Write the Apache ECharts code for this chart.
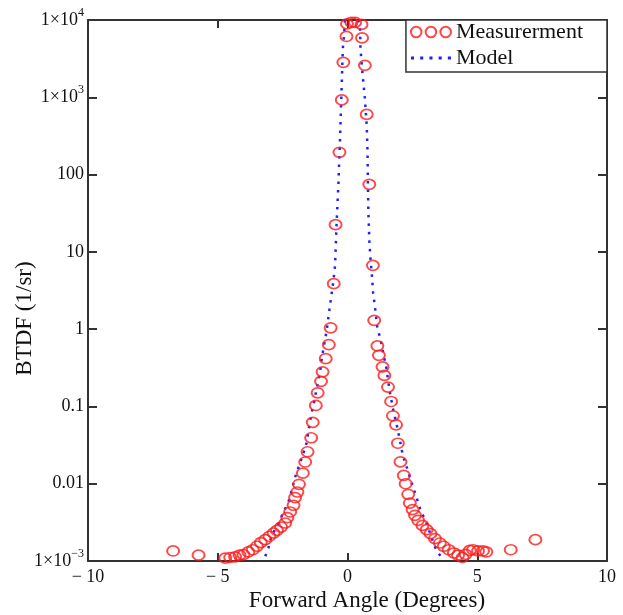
<!DOCTYPE html>
<html>
<head>
<meta charset="utf-8">
<script src="https://cdn.jsdelivr.net/npm/echarts@6/dist/echarts.min.js"></script>
<style>
  html, body { margin: 0; padding: 0; background: #ffffff; }
  #chart { width: 623px; height: 615px; }
</style>
</head>
<body>
<div id="chart"></div>
<script>
// Measured BTDF (1/sr) vs forward angle (degrees)
const measurementAngle = [
  -6.72, -5.74, -4.71, -4.52, -4.33, -4.16, -4.01, -3.82, -3.65, -3.49,
  -3.34, -3.17, -3.01, -2.85, -2.72, -2.56, -2.40, -2.32, -2.21, -2.08,
  -2.02, -1.93, -1.87, -1.72, -1.63, -1.54, -1.40, -1.34, -1.22, -1.15,
  -1.02, -0.96, -0.84, -0.72, -0.65, -0.53, -0.46, -0.31, -0.22, -0.16,
  -0.04, -0.02, 0.15, 0.29, 0.54, 0.56, 0.67, 0.74, 0.84, 0.98,
  1.03, 1.15, 1.21, 1.35, 1.42, 1.56, 1.68, 1.75, 1.87, 1.94,
  2.04, 2.17, 2.24, 2.34, 2.40, 2.51, 2.60, 2.72, 2.89, 3.05,
  3.20, 3.37, 3.56, 3.71, 3.90, 4.10, 4.26, 4.43, 4.55, 4.71,
  4.84, 5.03, 5.22, 5.35, 6.29, 7.24
];
const measurementBTDF = [
  1.35e-3, 1.19e-3, 1.09e-3, 1.11e-3, 1.13e-3, 1.19e-3, 1.21e-3, 1.31e-3, 1.40e-3, 1.55e-3,
  1.73e-3, 1.89e-3, 2.09e-3, 2.30e-3, 2.49e-3, 2.75e-3, 3.10e-3, 3.64e-3, 4.31e-3, 5.26e-3,
  6.61e-3, 7.81e-3, 9.82e-3, 0.0137, 0.0191, 0.0259, 0.0393, 0.0622, 0.103, 0.150,
  0.211, 0.280, 0.415, 0.630, 1.04, 3.88, 22.5, 194, 925, 2830,
  6130, 8910, 9310, 9310, 8770, 5870, 2590, 601, 74.7, 6.69,
  1.30, 0.608, 0.458, 0.325, 0.252, 0.178, 0.116, 0.0756, 0.0578, 0.0334,
  0.0192, 0.0128, 0.0100, 7.29e-3, 5.62e-3, 4.62e-3, 3.90e-3, 3.36e-3, 2.89e-3, 2.55e-3,
  2.26e-3, 1.95e-3, 1.71e-3, 1.55e-3, 1.40e-3, 1.27e-3, 1.19e-3, 1.11e-3, 1.22e-3, 1.37e-3,
  1.40e-3, 1.35e-3, 1.35e-3, 1.31e-3, 1.40e-3, 1.89e-3
];

// Model curve
const modelAngle = [
  -3.17, -3.05, -2.98, -2.85, -2.66, -2.47, -2.28, -2.15, -2.02, -1.89,
  -1.70, -1.57, -1.47, -1.38, -1.29, -1.18, -1.06, -0.99, -0.87, -0.80,
  -0.70, -0.61, -0.54, -0.48, -0.42, -0.35, -0.29, -0.26, -0.22, -0.18,
  -0.13, -0.10, 0.15, 0.40, 0.48, 0.50, 0.55, 0.61, 0.67, 0.74,
  0.77, 0.80, 0.84, 0.89, 0.94, 0.99, 1.06, 1.15, 1.28, 1.38,
  1.50, 1.62, 1.75, 1.90, 2.02, 2.13, 2.31, 2.52, 2.67, 2.83,
  3.02, 3.17, 3.30, 3.43, 3.66
];
const modelBTDF = [
  1.15e-3, 1.46e-3, 1.85e-3, 2.35e-3, 3.08e-3, 4.27e-3, 5.74e-3, 8.22e-3, 0.0121, 0.0163,
  0.0247, 0.0344, 0.0569, 0.0839, 0.113, 0.177, 0.276, 0.419, 0.716, 0.964,
  1.75, 2.90, 4.28, 6.68, 23.4, 76.9, 277, 583, 1560, 4290,
  6320, 10000, 20000, 10000, 8510, 4290, 2590, 1560, 968, 433,
  206, 37.6, 14.1, 7.76, 4.97, 2.90, 1.91, 1.05, 0.716, 0.486,
  0.311, 0.162, 0.0944, 0.0569, 0.0364, 0.0233, 0.0153, 9.25e-3, 6.47e-3, 4.40e-3,
  3.27e-3, 2.35e-3, 1.75e-3, 1.37e-3, 1.07e-3
];

const xTickLabels = ['\u2212 10', '\u2212 5', '0', '5', '10'];
const xTickValues = [-10, -5, 0, 5, 10];
const yTickLabels = ['{m|1\u00d710}{s|\u22123}', '0.01', '0.1', '1', '10', '100', '{m|1\u00d710}{s|3}', '{m|1\u00d710}{s|4}'];
const yTickExponents = [-3, -2, -1, 0, 1, 2, 3, 4];

const FONT = '"Liberation Serif", "DejaVu Serif", serif';
const AXIS_COLOR = '#333333';
const MODEL_COLOR = '#1f1fff';

const chart = echarts.init(document.getElementById('chart'), null, { renderer: 'canvas' });

const measurementData = measurementAngle.map((a, i) => [a, measurementBTDF[i]]);
const modelData = modelAngle.map((a, i) => [a, modelBTDF[i]]);

const commonX = {
  type: 'value', min: -10, max: 10, interval: 5,
  axisLine: { show: true, onZero: false, lineStyle: { color: AXIS_COLOR, width: 2 } },
  axisTick: { show: true, inside: true, length: 8, lineStyle: { color: AXIS_COLOR, width: 2 } },
  splitLine: { show: false }
};
const commonY = {
  type: 'log', logBase: 10, min: 1e-3, max: 1e4,
  axisLine: { show: true, onZero: false, lineStyle: { color: AXIS_COLOR, width: 2 } },
  axisTick: { show: true, inside: true, length: 9, lineStyle: { color: AXIS_COLOR, width: 2 } },
  minorTick: { show: false },
  splitLine: { show: false }
};

const option = {
  backgroundColor: '#ffffff',
  animation: false,
  grid: { left: 88, top: 20, width: 519, height: 541, containLabel: false, outerBoundsMode: 'none' },
  legend: {
    right: 16, top: 20,
    orient: 'vertical',
    backgroundColor: '#ffffff',
    borderColor: AXIS_COLOR, borderWidth: 1.5, borderRadius: 0,
    padding: [0, 24, 2, 4],
    itemGap: 2,
    itemWidth: 40, itemHeight: 11,
    textStyle: { fontFamily: FONT, fontSize: 22, color: '#111111', lineHeight: 24 },
    data: [
      { name: 'Measurerment', icon: 'path://M0,5a5,5 0 1,0 10,0a5,5 0 1,0 -10,0M14,5a5,5 0 1,0 10,0a5,5 0 1,0 -10,0M28,5a5,5 0 1,0 10,0a5,5 0 1,0 -10,0' },
      { name: 'Model', icon: 'path://M0,0h3v3h-3zM9,0h3v3h-3zM18,0h3v3h-3zM27,0h3v3h-3zM36,0h3v3h-3z',
        itemStyle: { color: MODEL_COLOR, borderWidth: 0 } }
    ]
  },
  xAxis: [
    Object.assign({}, commonX, {
      position: 'bottom',
      name: 'Forward Angle (Degrees)', nameLocation: 'middle', nameGap: 28,
      nameMoveOverlap: false,
      nameTextStyle: { fontFamily: FONT, fontSize: 23, color: '#111111', padding: [0, 0, 0, 39] },
      axisLabel: {
        show: true, margin: 7,
        fontFamily: FONT, fontSize: 18, color: '#111111',
        formatter: function (v) {
          const i = xTickValues.indexOf(Math.round(v));
          return i >= 0 ? xTickLabels[i] : '';
        }
      }
    }),
    Object.assign({}, commonX, { position: 'top', axisLabel: { show: false } })
  ],
  yAxis: [
    Object.assign({}, commonY, {
      position: 'left',
      name: 'BTDF (1/sr)', nameLocation: 'middle', nameGap: 52,
      nameMoveOverlap: false,
      nameTextStyle: { fontFamily: FONT, fontSize: 23, color: '#111111', padding: [0, 56, 0, 0] },
      axisLabel: {
        show: true, margin: 4,
        fontFamily: FONT, fontSize: 18, color: '#111111',
        formatter: function (v) {
          const e = Math.round(Math.log10(v));
          const i = yTickExponents.indexOf(e);
          return i >= 0 ? yTickLabels[i] : '';
        },
        rich: {
          m: { fontFamily: FONT, fontSize: 18, color: '#111111' },
          s: { fontFamily: FONT, fontSize: 12, color: '#111111', padding: [0, 0, 14, 0] }
        }
      }
    }),
    Object.assign({}, commonY, { position: 'right', axisLabel: { show: false } })
  ],
  series: [
    {
      name: 'Model',
      type: 'line',
      xAxisIndex: 0, yAxisIndex: 0,
      data: modelData,
      showSymbol: false, symbol: 'none',
      clip: true,
      smooth: false,
      lineStyle: { color: MODEL_COLOR, width: 2.5, type: [2.5, 6], cap: 'butt' },
      itemStyle: { color: MODEL_COLOR },
      z: 2
    },
    {
      name: 'Measurerment',
      type: 'scatter',
      xAxisIndex: 0, yAxisIndex: 0,
      data: measurementData,
      symbol: 'circle',
      symbolSize: [12, 10],
      itemStyle: { color: 'rgba(255,255,255,0)', borderColor: '#ff1a1a', borderWidth: 1.8 },
      clip: false,
      z: 3
    }
  ]
};
chart.setOption(option);
</script>
</body>
</html>
